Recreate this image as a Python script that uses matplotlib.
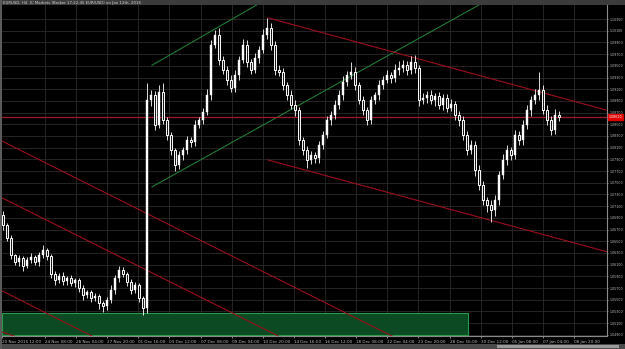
import numpy as np
import matplotlib.pyplot as plt
from matplotlib.patches import Rectangle

# EURUSD H4 closes
closes = [
    1.0678, 1.0656, 1.0626, 1.0614, 1.0621, 1.0608, 1.0618, 1.0623, 1.0614, 1.0626,
    1.0635, 1.0625, 1.0594, 1.0584, 1.0591, 1.0582, 1.0587, 1.0579, 1.0584, 1.0570,
    1.0558, 1.0563, 1.0553, 1.0556, 1.0544, 1.0539, 1.0549, 1.0567, 1.0587, 1.0601,
    1.0594, 1.0580, 1.0567, 1.0575, 1.0553, 1.0536, 1.0891, 1.0900, 1.0849, 1.0905,
    1.0857, 1.0832, 1.0806, 1.0780, 1.0797, 1.0806, 1.0823, 1.0820, 1.0849, 1.0857,
    1.0871, 1.0900, 1.0986, 1.1003, 1.0960, 1.0943, 1.0926, 1.0912, 1.0934, 1.0960,
    1.0986, 1.0956, 1.0943, 1.0963, 1.0977, 1.1003, 1.1015, 1.0986, 1.0943, 1.0939,
    1.0917, 1.0900, 1.0883, 1.0874, 1.0823, 1.0806, 1.0789, 1.0797, 1.0792, 1.0815,
    1.0832, 1.0857, 1.0866, 1.0883, 1.0900, 1.0922, 1.0934, 1.0939, 1.0917, 1.0891,
    1.0874, 1.0857, 1.0891, 1.0900, 1.0917, 1.0926, 1.0934, 1.0929, 1.0943, 1.0946,
    1.0951, 1.0943, 1.0956, 1.0946, 1.0891, 1.0895, 1.0900, 1.0891, 1.0898, 1.0883,
    1.0895, 1.0878, 1.0885, 1.0866, 1.0857, 1.0832, 1.0806, 1.0815, 1.0772, 1.0746,
    1.0720, 1.0712, 1.0703, 1.0720, 1.0763, 1.0789, 1.0806, 1.0797, 1.0832, 1.0823,
    1.0849, 1.0874, 1.0891, 1.0900, 1.0909, 1.0874, 1.0857, 1.0840, 1.0866, 1.0862,
]
first_open = 1.0695

# wicks in pips above / below the body
wick_up = [
    6, 4, 5, 3, 6, 4, 5, 7, 3, 6,
    8, 4, 3, 5, 4, 6, 3, 5, 4, 3,
    5, 4, 3, 6, 4, 3, 5, 8, 6, 7,
    5, 4, 6, 5, 3, 4, 29, 9, 7, 12,
    15, 6, 5, 4, 8, 6, 7, 5, 9, 6,
    7, 10, 9, 8, 12, 7, 6, 8, 9, 7,
    10, 8, 6, 9, 7, 10, 17, 9, 6, 8,
    7, 6, 9, 8, 6, 5, 7, 8, 6, 7,
    6, 8, 7, 9, 8, 10, 7, 17, 9, 6,
    7, 5, 8, 6, 9, 7, 8, 6, 10, 12,
    9, 7, 10, 12, 6, 8, 7, 9, 6, 8,
    7, 6, 9, 5, 6, 8, 7, 9, 6, 8,
    7, 6, 8, 9, 7, 10, 8, 6, 9, 7,
    8, 9, 7, 10, 30, 8, 9, 7, 10, 6,
]
wick_dn = [
    8, 6, 7, 5, 6, 8, 4, 6, 5, 7,
    5, 7, 6, 8, 5, 7, 6, 5, 7, 6,
    8, 5, 7, 6, 9, 10, 6, 5, 7, 6,
    5, 7, 8, 6, 7, 12, 8, 9, 8, 6,
    7, 9, 8, 10, 7, 8, 6, 9, 7, 5,
    6, 5, 8, 6, 9, 7, 8, 6, 7, 8,
    5, 8, 7, 6, 8, 5, 7, 9, 8, 7,
    8, 9, 7, 10, 8, 9, 14, 7, 9, 8,
    7, 6, 8, 7, 6, 8, 7, 6, 9, 7,
    8, 9, 7, 6, 8, 7, 6, 9, 7, 8,
    6, 8, 7, 9, 10, 7, 8, 6, 9, 7,
    8, 7, 6, 9, 10, 8, 9, 7, 10, 9,
    8, 12, 20, 9, 8, 7, 9, 8, 7, 9,
    8, 7, 9, 6, 8, 7, 9, 8, 6, 7,
]

current_price = 1.0862
price_ticks = np.round(np.arange(1.0490, 1.10301, 0.0020), 4)
date_labels = [
    "20 Nov 2015 12:00", "24 Nov 08:00", "26 Nov 04:00", "27 Nov 20:00",
    "01 Dec 16:00", "03 Dec 12:00", "07 Dec 08:00", "09 Dec 04:00",
    "10 Dec 20:00", "14 Dec 16:00", "16 Dec 12:00", "18 Dec 08:00",
    "22 Dec 04:00", "23 Dec 20:00", "28 Dec 16:00", "30 Dec 12:00",
    "05 Jan 08:00", "07 Jan 04:00", "08 Jan 20:00",
]

# drawn objects: (bar index, price) endpoints
green_lines = [((37.25, 1.0951), (70.0, 1.1080)),
               ((37.25, 1.0743), (119.5, 1.1056))]
red_lines = [((66.25, 1.1032), (151.0, 1.0874)),
             ((66.25, 1.0789), (151.0, 1.0632)),
             ((-0.75, 1.0823), (99.25, 1.0481)),
             ((-0.75, 1.0726), (71.75, 1.0478)),
             ((-0.75, 1.0567), (24.25, 1.0481)),
             ((-0.75, 1.0496), (9.25, 1.0473))]
zone = (-0.25, 116.25, 1.0490, 1.0527)

closes = np.array(closes)
opens = np.concatenate([[first_open], closes[:-1]])
highs = np.maximum(opens, closes) + np.array(wick_up) * 0.0001
lows = np.minimum(opens, closes) - np.array(wick_dn) * 0.0001
idx = np.arange(len(closes))

W, H = 625, 349
fig = plt.figure(figsize=(W / 100, H / 100), dpi=100, facecolor='black')
ax = fig.add_axes([2 / W, (H - 336) / H, 605 / W, 331 / H], facecolor='black')
ax.set_xlim(-0.25, 151)
ax.set_ylim(1.0488, 1.1054)

# grid
tick_x = np.concatenate([[-0.25], 10.5 + np.arange(18) * 7.78])
for t in tick_x[1:]:
    ax.axvline(t, color='#2a2a2a', lw=0.6, zorder=0)
for p in price_ticks:
    ax.axhline(p, color='#2a2a2a', lw=0.6, zorder=0)

# zone
x0, x1, y0, y1 = zone
ax.add_patch(Rectangle((x0, y0), x1 - x0, y1 - y0, facecolor='#0b4a22',
                       edgecolor='#2a9a4a', lw=0.8, zorder=1))

# candles
ax.vlines(idx, lows, highs, color='white', lw=0.6, zorder=3)
bull = closes >= opens
body_lo = np.minimum(opens, closes)
body_h = np.maximum(np.abs(closes - opens), 0.00008)
ax.bar(idx[bull], body_h[bull], bottom=body_lo[bull], width=0.64,
       color='white', edgecolor='white', lw=0.3, zorder=4)
ax.bar(idx[~bull], body_h[~bull], bottom=body_lo[~bull], width=0.64,
       color='#1a1a1a', edgecolor='white', lw=0.7, zorder=4)

# trend lines
for (a, b) in green_lines:
    ax.plot([a[0], b[0]], [a[1], b[1]], color='#1f7a35', lw=0.8, zorder=2)
for (a, b) in red_lines:
    ax.plot([a[0], b[0]], [a[1], b[1]], color='#9a0f1c', lw=0.8, zorder=2)
ax.axhline(current_price, color='#a3182e', lw=0.9, zorder=2)

# axes styling
for s in ['top', 'left']:
    ax.spines[s].set_visible(False)
for s in ['right', 'bottom']:
    ax.spines[s].set_color('#8a8a8a')
    ax.spines[s].set_linewidth(0.8)
ax.yaxis.tick_right()
ax.set_yticks(price_ticks)
ax.set_yticklabels([f"{p:.5f}" for p in price_ticks])
ax.tick_params(axis='y', colors='#bdbdbd', labelsize=2.3, length=1, width=0.5, pad=1)
ax.set_xticks(tick_x)
ax.set_xticklabels(date_labels, ha='left')
ax.tick_params(axis='x', colors='#bdbdbd', labelsize=3, length=1.5, width=0.5, pad=1.5)

# current price tag
ax.annotate(f"{current_price:.5f}", xy=(1.0, current_price), xycoords=('axes fraction', 'data'),
            xytext=(1.2, 0), textcoords='offset points', va='center', ha='left',
            fontsize=2.3, color='white',
            bbox=dict(boxstyle='square,pad=0.3', fc='#e00000', ec='#e00000'))

# window chrome
fig.patches.append(Rectangle((0, 1 - 5 / H), 1, 5 / H, transform=fig.transFigure,
                             facecolor='#3c3c3c', edgecolor='none'))
fig.text(3 / W, 1 - 2.6 / H, "EURUSD, H4  IC Markets (Broker 17:22:45 EUR/USD) on Jan 12th, 2016",
         fontsize=2.8, color='#d0d0d0', va='center', ha='left')
fig.patches.append(Rectangle((0, 0), 1, 5 / H, transform=fig.transFigure,
                             facecolor='#4a4a4a', edgecolor='none'))
fig.patches.append(Rectangle((497 / W, 1 / H), 122 / W, 3 / H, transform=fig.transFigure,
                             facecolor='#9a9a9a', edgecolor='none'))
fig.patches.append(Rectangle((0, 0), 2 / W, 1, transform=fig.transFigure,
                             facecolor='#5a5a5a', edgecolor='none'))

plt.savefig('out.png', dpi=100, facecolor='black')
